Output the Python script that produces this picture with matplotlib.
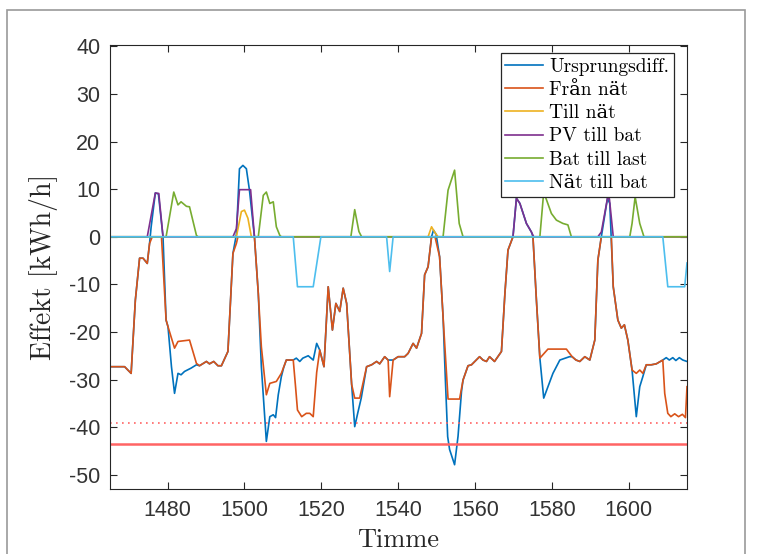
import numpy as np
import matplotlib
matplotlib.use("Agg")
import matplotlib.pyplot as plt
from matplotlib.patches import Rectangle

# hourly power values (hour, kWh/h)
urspr_t = [1465, 1468.8, 1470.5, 1471.6, 1472.7, 1473.6, 1474.7, 1475.3, 1475.7, 1476.8, 1477.6,
           1478.8, 1479.6, 1480.1, 1481, 1481.8, 1482.7, 1483.5, 1484.4, 1486.1, 1487.5, 1488.3,
           1490.1, 1490.9, 1492, 1493.1, 1494, 1495.7, 1497, 1497.9, 1498.7, 1499.6, 1500.5,
           1501.3, 1502.6, 1503.6, 1504.4, 1505.7, 1506.6, 1507.5, 1508.1, 1508.8, 1509.6, 1510.2,
           1510.9, 1512.7, 1513.5, 1514.4, 1515.2, 1516.6, 1517.9, 1518.8, 1519.6, 1520.7, 1521.8,
           1522.9, 1523.8, 1524.8, 1525.7, 1526.6, 1527.9, 1528.7, 1529.5, 1530.4, 1531.8, 1533.1,
           1534.4, 1535.2, 1536.5, 1537.4, 1538.7, 1540, 1541.7, 1542.6, 1543.9, 1544.8, 1546.1,
           1546.9, 1547.8, 1548.7, 1549.2, 1549.9, 1550.8, 1551.7, 1552.3, 1552.9, 1553.4, 1554.7,
           1555.6, 1556.5, 1556.9, 1558.2, 1559.1, 1561.2, 1562.1, 1563, 1563.8, 1565.1, 1566.9,
           1567.8, 1568.6, 1569.9, 1570.8, 1571.7, 1573.4, 1574.7, 1575.1, 1576, 1576.9, 1577.9,
           1580.3, 1582.1, 1584.6, 1585.3, 1586.3, 1587.3, 1588.6, 1589.9, 1591.2, 1592, 1592.9,
           1594.5, 1595.1, 1596, 1597.2, 1598.1, 1598.9, 1599.8, 1600.9, 1602, 1602.9, 1603.7,
           1604.6, 1605.9, 1607.2, 1608.9, 1609.8, 1610.6, 1611.5, 1612.3, 1613.2, 1614.1, 1615.2]
urspr_v = [-27.3, -27.3, -28.7, -13.3, -4.5, -4.5, -5.6, -1.4, 2, 9.2, 9.0,
           0, -17.5, -18.9, -27.3, -32.9, -28.7, -29, -28.3, -27.6, -26.9, -27.1,
           -26.2, -26.7, -26.2, -27.1, -27.1, -24.1, -3.5, 0.5, 14.3, 15, 14.3,
           9.8, 0, -11.9, -27.3, -43, -37.8, -37.4, -38, -33.2, -29.4, -27.5,
           -25.9, -25.9, -25.5, -26.2, -25.5, -25, -25.9, -22.4, -23.8, -27.3, -10.5,
           -19.6, -14, -15.7, -10.8, -14, -31, -39.9, -37, -33.9, -27.3, -26.9,
           -26.2, -26.7, -25.2, -25.9, -25.9, -25.2, -25.2, -24.5, -22.4, -23.4, -20.3,
           -8, -6.3, 0, 1.4, 0.5, -4.2, -16.8, -30, -42, -44.7, -47.9,
           -41.9, -32.5, -30.1, -27.1, -26.9, -25.2, -25.9, -26.2, -25.2, -26.2, -24.1,
           -11.9, -2.8, 0, 8.1, 7, 2.8, 1, 0, -13.3, -25.5, -33.9,
           -28.7, -25.9, -25.2, -25.2, -25.9, -26.2, -25.2, -25.9, -21.7, -4.9, 0,
           8.1, 7, -10.5, -17.5, -19.2, -18.5, -21.7, -28, -37.8, -31.5, -29.4,
           -26.9, -26.9, -26.7, -25.9, -25.4, -25.9, -25.4, -26, -25.4, -25.9, -26.2]

fran_t = [1465, 1468.8, 1470.5, 1471.6, 1472.7, 1473.6, 1474.7, 1475.3, 1476, 1478.4, 1479.6,
          1480.1, 1481.8, 1482.7, 1485.7, 1487.5, 1488.3, 1490.1, 1490.9, 1492, 1493.1, 1494,
          1495.7, 1497, 1497.9, 1498.3, 1502.6, 1503.6, 1504.4, 1505.7, 1506.6, 1508.3, 1509.6,
          1510.9, 1512.7, 1513.3, 1513.8, 1514.9, 1516.1, 1517, 1517.9, 1518.8, 1519.6, 1520.7,
          1521.8, 1522.9, 1523.8, 1524.8, 1525.7, 1526.6, 1527.9, 1528.7, 1530, 1531.8, 1533.1,
          1534.4, 1535.2, 1536.5, 1537.4, 1537.8, 1538.7, 1540, 1541.7, 1542.6, 1543.9, 1544.8,
          1546.1, 1546.9, 1547.8, 1548.7, 1549.6, 1550.8, 1551.7, 1553, 1556, 1556.9, 1558.2,
          1559.1, 1561.2, 1562.1, 1563, 1563.8, 1565.1, 1566.9, 1567.8, 1568.6, 1569.9, 1575.1,
          1576, 1576.9, 1579, 1583.8, 1585.3, 1586.3, 1587.3, 1588.6, 1589.9, 1591.2, 1592,
          1592.9, 1595.5, 1596, 1597.2, 1598.1, 1598.9, 1599.8, 1600.9, 1602, 1602.9, 1603.7,
          1604.6, 1605.9, 1607.2, 1608.9, 1609.4, 1610.2, 1611, 1612, 1613, 1614, 1614.8, 1615.2]
fran_v = [-27.3, -27.3, -28.7, -13.3, -4.5, -4.5, -5.6, -1.4, 0, 0, -17.5,
          -18.9, -23.4, -22, -21.7, -26.6, -27.1, -26.2, -26.7, -26.2, -27.1, -27.1,
          -24.1, -3.5, -1.4, 0, 0, -11.9, -23.1, -33.2, -30.8, -30.4, -28.7,
          -25.9, -25.9, -31.5, -36.4, -37.8, -37.1, -37.1, -37.8, -28.5, -23.8, -27.3,
          -10.5, -19.6, -14, -15.7, -10.8, -14, -31, -33.9, -33.9, -27.3, -26.9,
          -26.2, -26.7, -25.2, -25.9, -33.6, -25.9, -25.2, -25.2, -24.5, -22.4, -23.4,
          -20.3, -8, -6.3, 0, 0, -4.2, -16.8, -34.1, -34.1, -30.1, -27.1,
          -26.9, -25.2, -25.9, -26.2, -25.2, -26.2, -24.1, -11.9, -2.8, 0, 0,
          -13.3, -25.5, -23.6, -23.6, -25.2, -25.9, -26.2, -25.2, -25.9, -21.7, -4.9,
          0, 0, -10.5, -17.5, -19.2, -18.5, -21.7, -28, -28.7, -28, -28.7,
          -26.9, -26.9, -26.7, -25.9, -32.9, -37.1, -37.8, -37.2, -37.8, -37.3, -38, -31.5]

till_t = [1465, 1497.9, 1499.2, 1500, 1500.9, 1501.8, 1547.8, 1548.7, 1549.5, 1550.4, 1615.2]
till_v = [0, 0, 5.3, 5.6, 3.9, 0, 0, 2.1, 1.0, 0, 0]

pv_t = [1465, 1474.7, 1476.8, 1477.7, 1478.8, 1497, 1497.9, 1498.7, 1501.6, 1502.6,
        1569.9, 1570.8, 1571.7, 1573.4, 1574.7, 1575.3, 1592, 1592.9, 1594.5, 1595, 1596, 1615.2]
pv_v = [0, 0, 9.2, 9.1, 0, 0, 1.7, 9.9, 9.9, 0,
        0, 8.1, 7, 2.8, 1, 0, 0, 1, 8.1, 8, 0, 0]

batlast_t = [1465, 1479.6, 1481.6, 1482.7, 1483.5, 1484.9, 1485.7, 1487.5, 1487.9,
             1503.6, 1504.9, 1505.7, 1506.6, 1507.5, 1508.3, 1509.2, 1509.6,
             1527.7, 1528.7, 1529.8, 1530.5, 1551.7, 1553, 1554.7, 1555.9, 1556.9,
             1576.9, 1577.9, 1579.9, 1581.2, 1582.9, 1584.2, 1585.1,
             1600.3, 1600.9, 1601.7, 1602.9, 1604, 1615.2]
batlast_v = [0, 0, 9.4, 6.7, 7.35, 6.4, 6.3, 0.3, 0,
             0, 8.7, 9.4, 7, 7.35, 2.1, 0.3, 0,
             0, 5.7, 1.1, 0, 0, 9.8, 14, 2.8, 0,
             0, 9.4, 4.9, 3.5, 2.8, 2.5, 0,
             0, 2.8, 8.4, 2.8, 0, 0]

natbat_t = [1465, 1512.7, 1513.8, 1517.9, 1519.9, 1537, 1537.8, 1538.7,
            1608.9, 1610.2, 1614.6, 1615.2]
natbat_v = [0, 0, -10.5, -10.5, 0, 0, -7.3, 0,
            0, -10.5, -10.5, -5.5]

grans_max = -43.5
grans_dot = -39.2

labels = ["Ursprungsdiff.", "Från nät", "Till nät", "PV till bat", "Bat till last", "Nät till bat"]
colors = ["#0072BD", "#D95319", "#EDB120", "#7E2F8E", "#77AC30", "#4DBEEE"]

serif = ["cmr10", "DejaVu Serif"]
plt.rcParams["axes.unicode_minus"] = False

W, H = 757, 554
fig = plt.figure(figsize=(W/100, H/100), dpi=100)
ax = fig.add_axes([110/W, 1-489/H, (687-110)/W, (489-45)/H])

series = [(urspr_t, urspr_v), (fran_t, fran_v), (till_t, till_v),
          (pv_t, pv_v), (batlast_t, batlast_v), (natbat_t, natbat_v)]
for (t, v), lab, c in zip(series, labels, colors):
    ax.plot(t, v, color=c, lw=1.2, label=lab)

ax.axhline(grans_max, color="#FF6464", lw=1.8)
ax.axhline(grans_dot, color="#FF6464", lw=1.2, ls=(0, (1, 2.6)))

ax.set_xlim(1465, 1615.2)
ax.set_ylim(-53, 40.3)
ax.set_xticks([1480, 1500, 1520, 1540, 1560, 1580, 1600])
ax.set_yticks(np.arange(-50, 41, 10))
ax.tick_params(direction="in", top=True, right=True, length=5, width=0.8,
               labelsize=15.5, colors="#262626", labelcolor="#333333")
ax.tick_params(axis="x", pad=8)
ax.tick_params(axis="y", pad=7)
for lab in ax.get_xticklabels() + ax.get_yticklabels():
    lab.set_family("Liberation Sans")
for sp in ax.spines.values():
    sp.set_color("#262626")
    sp.set_linewidth(0.8)

ax.set_xlabel("Timme", fontsize=19, family=serif, color="#262626", labelpad=5)
ax.set_ylabel("Effekt [kWh/h]", fontsize=20, family=serif, color="#262626", labelpad=8)

# legend box: x 502..674 px, y 53..197 px
leg = ax.legend(loc="upper right", bbox_to_anchor=((674-110)/577, (489-53)/444),
                borderaxespad=0, prop={"family": serif, "size": 14},
                fancybox=False, edgecolor="#262626", framealpha=1,
                handlelength=1.95, handletextpad=0.3, labelspacing=0.27,
                borderpad=0.25)
leg.get_frame().set_linewidth(0.9)

# grey frame around the figure, as in the screenshot
fig.patches.append(Rectangle((7/W, -0.1), (745-7)/W, 1.1 - 10/H,
                             transform=fig.transFigure, fill=False,
                             edgecolor="#9a9a9a", lw=1.2))

fig.savefig("out.png", dpi=100)
